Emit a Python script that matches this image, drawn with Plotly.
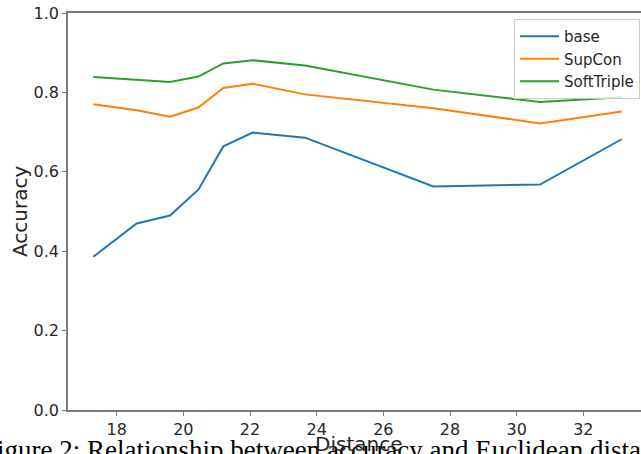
import plotly.graph_objects as go

distance = [17.30, 18.60, 19.60, 20.45, 21.20, 22.08, 23.65, 27.50, 30.70, 33.15]
base = [0.386, 0.470, 0.490, 0.555, 0.664, 0.699, 0.686, 0.563, 0.568, 0.682]
supcon = [0.770, 0.755, 0.739, 0.762, 0.811, 0.822, 0.795, 0.760, 0.722, 0.752]
softtriple = [0.839, 0.831, 0.826, 0.840, 0.873, 0.881, 0.868, 0.807, 0.776, 0.788]

x_ticks = [18, 20, 22, 24, 26, 28, 30, 32]
y_ticks = [0.0, 0.2, 0.4, 0.6, 0.8, 1.0]

series = [("base", base, "#1f77b4"), ("SupCon", supcon, "#ff7f0e"), ("SoftTriple", softtriple, "#2ca02c")]

fig = go.Figure()
for name, vals, color in series:
    fig.add_trace(go.Scatter(x=distance, y=vals, mode="lines", name=name,
                             line=dict(color=color, width=2)))

W, H = 641, 454
L, R, T, B = 68, 0, 13, 44
pw, ph = W - L - R, H - T - B

def px_x(p):
    return (p - L) / pw

def px_y(p):
    return (H - B - p) / ph

axis_color = "#7a7a7a"
tick_font = dict(family="DejaVu Sans", size=16, color="#262626")

fig.update_layout(
    width=W, height=H,
    margin=dict(l=L, r=R, t=T, b=B, pad=0),
    paper_bgcolor="white", plot_bgcolor="white",
    showlegend=True,
    legend=dict(x=px_x(640), xanchor="right", y=px_y(19), yanchor="top", itemwidth=39,
                bgcolor="rgba(255,255,255,0.8)", bordercolor="#cccccc", borderwidth=1,
                font=dict(family="DejaVu Sans", size=15, color="#262626")),
    xaxis=dict(range=[16.54, 33.73], tickvals=x_ticks, ticktext=[str(v) for v in x_ticks],
               showgrid=False, zeroline=False, showline=True, linecolor=axis_color, linewidth=1.5,
               mirror=True, ticks="outside", ticklen=4, tickcolor=axis_color, tickwidth=1,
               tickfont=tick_font),
    yaxis=dict(range=[0, 1], tickvals=y_ticks, ticktext=[f"{v:.1f}" for v in y_ticks],
               showgrid=False, zeroline=False, showline=True, linecolor=axis_color, linewidth=1.5,
               ticks="outside", ticklen=4, tickcolor=axis_color, tickwidth=1,
               tickfont=tick_font),
)

fig.add_annotation(text="Figure 2: Relationship between accuracy and Euclidean distance",
                   xref="paper", yref="paper", x=px_x(-20), y=px_y(450), xanchor="left", yanchor="middle",
                   showarrow=False, font=dict(family="Liberation Serif", size=27, color="black"))
fig.add_annotation(text="Distance", xref="paper", yref="paper", x=px_x(358), y=px_y(444),
                   xanchor="center", yanchor="middle", showarrow=False,
                   font=dict(family="DejaVu Sans", size=20, color="#262626"))
fig.add_annotation(text="Accuracy", xref="paper", yref="paper", x=px_x(20), y=px_y(212),
                   xanchor="center", yanchor="middle", textangle=-90, showarrow=False,
                   font=dict(family="DejaVu Sans", size=20, color="#262626"))

fig.write_html("out.html", config={"displayModeBar": False},
               post_script="document.body.style.margin='0';document.body.style.overflow='hidden';")
